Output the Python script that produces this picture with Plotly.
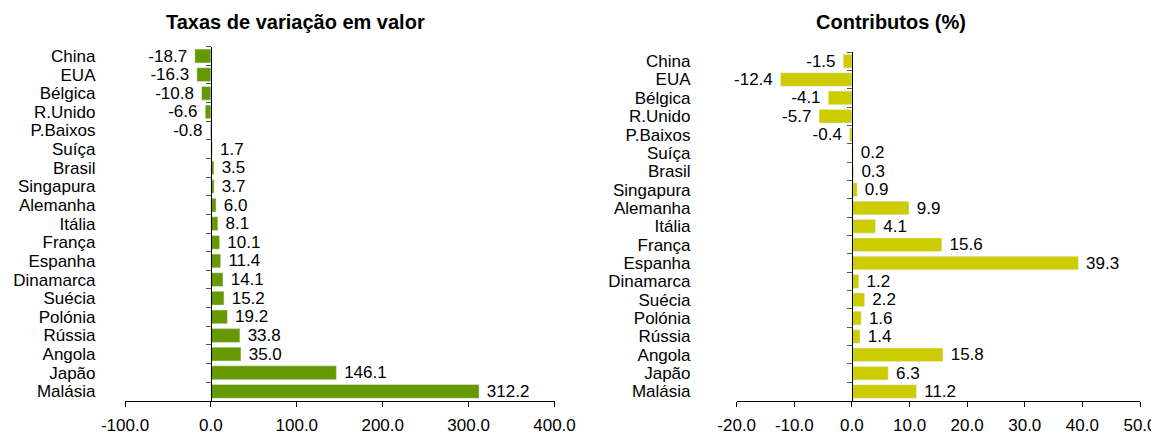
import plotly.graph_objects as go

countries = ["China", "EUA", "Bélgica", "R.Unido", "P.Baixos", "Suíça", "Brasil",
             "Singapura", "Alemanha", "Itália", "França", "Espanha", "Dinamarca",
             "Suécia", "Polónia", "Rússia", "Angola", "Japão", "Malásia"]
taxas = [-18.7, -16.3, -10.8, -6.6, -0.8, 1.7, 3.5, 3.7, 6.0, 8.1, 10.1, 11.4,
         14.1, 15.2, 19.2, 33.8, 35.0, 146.1, 312.2]
contributos = [-1.5, -12.4, -4.1, -5.7, -0.4, 0.2, 0.3, 0.9, 9.9, 4.1, 15.6, 39.3,
               1.2, 2.2, 1.6, 1.4, 15.8, 6.3, 11.2]
ticks_left = [-100, 0, 100, 200, 300, 400]
ticks_right = [-20, -10, 0, 10, 20, 30, 40, 50]
title_left = "Taxas de variação em valor"
title_right = "Contributos (%)"

W, H = 1159, 435
OFF = 8  # page body margin
FONT = "Liberation Sans, Arial, sans-serif"
GREEN = "#669900"
YELLOW = "#cccc00"
FS = 17


def fx(px):
    return (px - OFF) / W


def fy(py):
    return (H - (py - OFF)) / H


dom_l = [fx(125.0), fx(554.5)]
dom_r = [fx(736.7), fx(1140.0)]
ydom_l = [fy(400.7), fy(46.7)]
ydom_r = [fy(400.7), fy(52.0)]


def zero_pos(dom, rng):
    return dom[0] + (0 - rng[0]) / (rng[1] - rng[0]) * (dom[1] - dom[0])


def lab(v):
    s = f"{v:.1f}"
    return s + "\u00a0" if v < 0 else "\u00a0" + s


rng_l = [ticks_left[0], ticks_left[-1]]
rng_r = [ticks_right[0], ticks_right[-1]]

fig = go.Figure()
fig.add_trace(go.Bar(
    x=taxas, y=countries, orientation="h", marker_color=GREEN,
    text=[lab(v) for v in taxas], textposition="outside", cliponaxis=False,
    constraintext="none",
    textfont=dict(size=FS, color="black", family=FONT),
    xaxis="x", yaxis="y", showlegend=False))
fig.add_trace(go.Bar(
    x=contributos, y=countries, orientation="h", marker_color=YELLOW,
    text=[lab(v) for v in contributos], textposition="outside", cliponaxis=False,
    constraintext="none",
    textfont=dict(size=FS, color="black", family=FONT),
    xaxis="x2", yaxis="y2", showlegend=False))

xcommon = dict(showgrid=False, zeroline=False, showline=True, linecolor="black",
               linewidth=1, ticks="outside", ticklen=5, tickcolor="black",
               automargin=False, ticklabelstandoff=4,
               tickfont=dict(size=FS, color="black", family=FONT))
ycommon = dict(type="category", categoryorder="array", categoryarray=countries,
               autorange="reversed", showgrid=False, zeroline=False, showline=True,
               linecolor="black", linewidth=1, ticks="outside", ticklen=5,
               tickmode="linear", tick0=0, dtick=1,
               tickcolor="#555555", tickson="boundaries", automargin=False,
               tickfont=dict(size=FS, color="black", family=FONT))

fig.update_layout(
    width=W, height=H, margin=dict(l=0, r=0, t=0, b=0, autoexpand=False),
    paper_bgcolor="white", plot_bgcolor="white", bargap=0.26,
    font=dict(family=FONT, size=FS, color="black"),
    xaxis=dict(domain=dom_l, range=rng_l, anchor="y", tickvals=ticks_left,
               ticktext=[f"{v:.1f}" for v in ticks_left], **xcommon),
    xaxis2=dict(domain=dom_r, range=rng_r, anchor="y2", tickvals=ticks_right,
                ticktext=[f"{v:.1f}" for v in ticks_right], **xcommon),
    yaxis=dict(domain=ydom_l, anchor="free", position=zero_pos(dom_l, rng_l),
               ticklabelstandoff=112, **ycommon),
    yaxis2=dict(domain=ydom_r, anchor="free", position=zero_pos(dom_r, rng_r),
                ticklabelstandoff=158, **ycommon),
    annotations=[
        dict(text=f"<b>{title_left}</b>", x=fx(295), y=fy(22), xref="paper",
             yref="paper", showarrow=False, xanchor="center", yanchor="middle",
             font=dict(size=20, color="black", family=FONT)),
        dict(text=f"<b>{title_right}</b>", x=fx(891), y=fy(22), xref="paper",
             yref="paper", showarrow=False, xanchor="center", yanchor="middle",
             font=dict(size=20, color="black", family=FONT)),
    ],
)

fig.write_html("out.html")
